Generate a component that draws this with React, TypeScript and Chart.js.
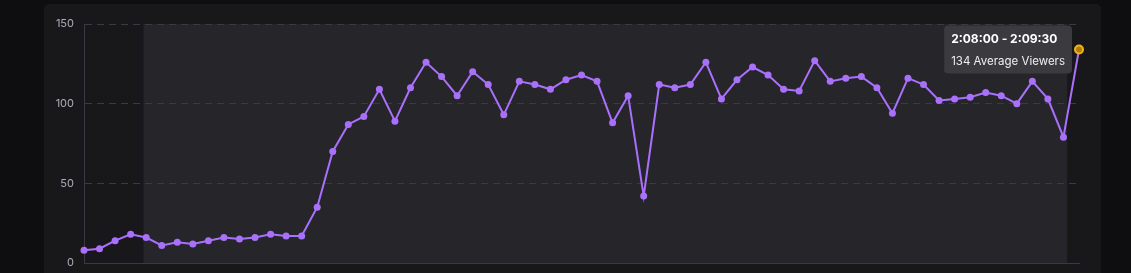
import React, { useEffect, useRef } from "react";
import { Chart, registerables } from "chart.js";

Chart.register(...registerables);

// Start time of each 2-minute bucket
const TIME_STARTS = [
  "0:00:00", "0:02:00", "0:04:00", "0:06:00", "0:08:00", "0:10:00", "0:12:00", "0:14:00", "0:16:00", "0:18:00",
  "0:20:00", "0:22:00", "0:24:00", "0:26:00", "0:28:00", "0:30:00", "0:32:00", "0:34:00", "0:36:00", "0:38:00",
  "0:40:00", "0:42:00", "0:44:00", "0:46:00", "0:48:00", "0:50:00", "0:52:00", "0:54:00", "0:56:00", "0:58:00",
  "1:00:00", "1:02:00", "1:04:00", "1:06:00", "1:08:00", "1:10:00", "1:12:00", "1:14:00", "1:16:00", "1:18:00",
  "1:20:00", "1:22:00", "1:24:00", "1:26:00", "1:28:00", "1:30:00", "1:32:00", "1:34:00", "1:36:00", "1:38:00",
  "1:40:00", "1:42:00", "1:44:00", "1:46:00", "1:48:00", "1:50:00", "1:52:00", "1:54:00", "1:56:00", "1:58:00",
  "2:00:00", "2:02:00", "2:04:00", "2:06:00", "2:08:00",
];
const LAST_END = "2:09:30";

const AVERAGE_VIEWERS = [
  8, 9, 14, 18, 16, 11, 13, 12, 14, 16,
  15, 16, 18, 17, 17, 35, 70, 87, 92, 109,
  89, 110, 126, 117, 105, 120, 112, 93, 114, 112,
  109, 115, 118, 114, 88, 105, 42, 112, 110, 112,
  126, 103, 115, 123, 118, 109, 108, 127, 114, 116,
  117, 110, 94, 116, 112, 102, 103, 104, 107, 105,
  100, 114, 103, 79, 134,
];

const Y_TICKS = [0, 50, 100, 150];
// Lighter "live" band, in category-index units
const BAND_START = 3.82;
const BAND_END = 63.24;
const ACTIVE_INDEX = 64;

const backgroundPlugin = {
  id: "bgPlugin",
  beforeDraw(chart: any) {
    const { ctx, chartArea, width, height } = chart;
    ctx.save();
    ctx.fillStyle = "#0e0e10";
    ctx.fillRect(0, 0, width, height);
    ctx.fillStyle = "#18181b";
    ctx.beginPath();
    ctx.roundRect(44, 4, 1057, 300, 5);
    ctx.fill();
    const x = chart.scales.x;
    const x1 = x.getPixelForValue(BAND_START);
    const x2 = x.getPixelForValue(BAND_END);
    ctx.fillStyle = "#25252a";
    ctx.fillRect(x1, chartArea.top, x2 - x1, chartArea.bottom - chartArea.top);
    ctx.restore();
  },
};

export default function App() {
  const ref = useRef<HTMLCanvasElement>(null);

  useEffect(() => {
    if (!ref.current) return;
    const labels = TIME_STARTS.map((s, i) =>
      `${s} - ${i + 1 < TIME_STARTS.length ? TIME_STARTS[i + 1] : LAST_END}`
    );
    const chart = new Chart(ref.current, {
      type: "line",
      data: {
        labels,
        datasets: [
          {
            data: AVERAGE_VIEWERS,
            borderColor: "#a970ff",
            backgroundColor: "#a970ff",
            borderWidth: 2,
            pointRadius: 3.5,
            pointBorderWidth: 0,
            pointBackgroundColor: "#a970ff",
            pointHoverRadius: 4,
            pointHoverBorderWidth: 2,
            pointHoverBackgroundColor: "#b07c0c",
            pointHoverBorderColor: "#f5b31b",
            tension: 0,
            clip: false as any,
          },
        ],
      },
      options: {
        responsive: false,
        animation: false,
        devicePixelRatio: 1,
        events: [],
        layout: { autoPadding: false, padding: { left: 0, top: 24, right: 52, bottom: 10 } },
        font: { family: "Inter" } as any,
        scales: {
          x: {
            display: true,
            grid: { display: false },
            ticks: { display: false },
            border: { display: true, color: "#3a3a3f", width: 1 },
            afterFit: (s: any) => {
              s.height = 0;
              s.paddingLeft = 0; s.paddingRight = 0; s.paddingTop = 0; s.paddingBottom = 0;
            },
          },
          y: {
            min: 0,
            max: 150,
            afterBuildTicks: (s: any) => { s.ticks = Y_TICKS.map((v) => ({ value: v })); },
            grid: { color: "#3a3a3f", lineWidth: 1, drawTicks: false },
            border: { display: true, color: "#3a3a3f", width: 1, dash: [7, 5] },
            ticks: {
              color: "#adadb8",
              padding: 10,
              font: { family: "Inter", size: 11 },
            },
            afterFit: (s: any) => {
              s.width = 84;
              s.paddingTop = 0; s.paddingBottom = 0;
            },
          },
        },
        plugins: {
          legend: { display: false },
          tooltip: {
            enabled: true,
            backgroundColor: "#3a3a3f",
            titleColor: "#ffffff",
            bodyColor: "#efeff1",
            titleFont: { family: "Inter", size: 12, weight: "bold" },
            bodyFont: { family: "Inter", size: 11.5 },
            padding: { top: 7, bottom: 5, left: 7, right: 7 },
            titleMarginBottom: 8,
            displayColors: false,
            caretSize: 0,
            caretPadding: 7,
            cornerRadius: 4,
            xAlign: "right",
            yAlign: "center",
            callbacks: {
              title: (items: any[]) => items[0].label,
              label: (item: any) => `${item.parsed.y} Average Viewers`,
            },
          },
        },
      },
      plugins: [backgroundPlugin],
    });
    const active = [{ datasetIndex: 0, index: ACTIVE_INDEX }];
    chart.setActiveElements(active);
    chart.tooltip?.setActiveElements(active, { x: 0, y: 0 });
    chart.update();
    return () => chart.destroy();
  }, []);

  return (
    <canvas
      ref={ref}
      width={1131}
      height={273}
      style={{ position: "fixed", left: 0, top: 0, width: 1131, height: 273 }}
    />
  );
}
